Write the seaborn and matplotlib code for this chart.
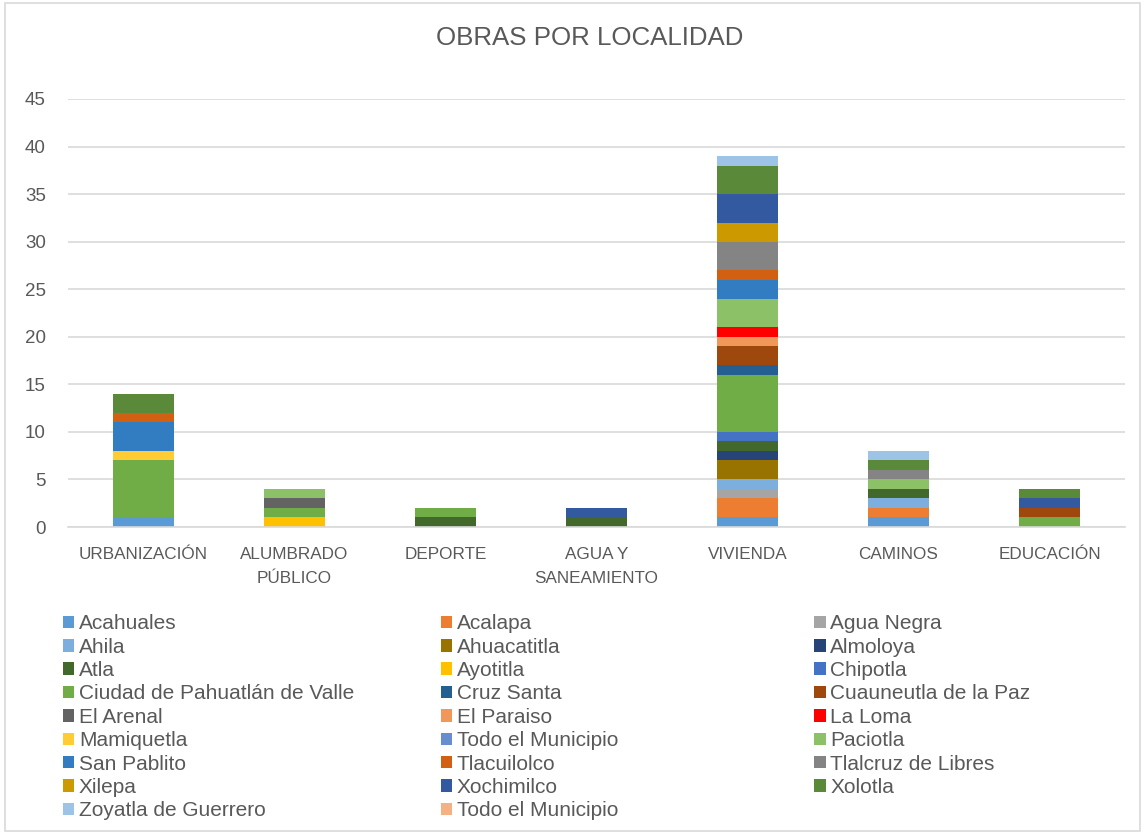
import numpy as np
import pandas as pd
import seaborn as sns
import matplotlib.pyplot as plt
from matplotlib.patches import Patch, Rectangle

# ==== data
categorias = ["URBANIZACIÓN", "ALUMBRADO\nPÚBLICO", "DEPORTE", "AGUA Y\nSANEAMIENTO",
              "VIVIENDA", "CAMINOS", "EDUCACIÓN"]

localidades = ["Acahuales", "Acalapa", "Agua Negra", "Ahila", "Ahuacatitla", "Almoloya",
               "Atla", "Ayotitla", "Chipotla", "Ciudad de Pahuatlán de Valle", "Cruz Santa",
               "Cuauneutla de la Paz", "El Arenal", "El Paraiso", "La Loma", "Mamiquetla",
               "Todo el Municipio", "Paciotla", "San Pablito", "Tlacuilolco",
               "Tlalcruz de Libres", "Xilepa", "Xochimilco", "Xolotla",
               "Zoyatla de Guerrero", "Todo el Municipio"]

colores = ["#5B9BD5", "#ED7D31", "#A5A5A5", "#7CAFDD", "#997300", "#264478",
           "#43682B", "#FFC000", "#4472C4", "#70AD47", "#255E91",
           "#9E480E", "#636363", "#F1975A", "#FF0000", "#FFCD33",
           "#698ED0", "#8CC168", "#327DC2", "#D26012",
           "#848484", "#CC9A00", "#335AA1", "#5A8A39",
           "#9DC3E6", "#F4B183"]

# values per localidad, one number per categoria
acahuales = [1, 0, 0, 0, 1, 1, 0]
acalapa = [0, 0, 0, 0, 2, 1, 0]
agua_negra = [0, 0, 0, 0, 1, 0, 0]
ahila = [0, 0, 0, 0, 1, 1, 0]
ahuacatitla = [0, 0, 0, 0, 2, 0, 0]
almoloya = [0, 0, 0, 0, 1, 0, 0]
atla = [0, 0, 1, 1, 1, 1, 0]
ayotitla = [0, 1, 0, 0, 0, 0, 0]
chipotla = [0, 0, 0, 0, 1, 0, 0]
ciudad = [6, 1, 1, 0, 6, 0, 1]
cruz_santa = [0, 0, 0, 0, 1, 0, 0]
cuauneutla = [0, 0, 0, 0, 2, 0, 1]
el_arenal = [0, 1, 0, 0, 0, 0, 0]
el_paraiso = [0, 0, 0, 0, 1, 0, 0]
la_loma = [0, 0, 0, 0, 1, 0, 0]
mamiquetla = [1, 0, 0, 0, 0, 0, 0]
todo_mun_1 = [0, 0, 0, 0, 0, 0, 0]
paciotla = [0, 1, 0, 0, 3, 1, 0]
san_pablito = [3, 0, 0, 0, 2, 0, 0]
tlacuilolco = [1, 0, 0, 0, 1, 0, 0]
tlalcruz = [0, 0, 0, 0, 3, 1, 0]
xilepa = [0, 0, 0, 0, 2, 0, 0]
xochimilco = [0, 0, 0, 1, 3, 0, 1]
xolotla = [2, 0, 0, 0, 3, 1, 1]
zoyatla = [0, 0, 0, 0, 1, 1, 0]
todo_mun_2 = [0, 0, 0, 0, 0, 0, 0]

valores = [acahuales, acalapa, agua_negra, ahila, ahuacatitla, almoloya, atla, ayotitla,
           chipotla, ciudad, cruz_santa, cuauneutla, el_arenal, el_paraiso, la_loma,
           mamiquetla, todo_mun_1, paciotla, san_pablito, tlacuilolco, tlalcruz, xilepa,
           xochimilco, xolotla, zoyatla, todo_mun_2]

gris = "#595959"
sns.set_style("white")
plt.rcParams['font.family'] = ['Liberation Sans', 'DejaVu Sans']

fig = plt.figure(figsize=(11.45, 8.34), dpi=100)
ax = fig.add_axes([0.0594, 0.3681, 0.9231, 0.5132])

# ==== stacked bars, one barplot per localidad
base = np.zeros(len(categorias))
for nombre, vals, col in zip(localidades, valores, colores):
    df = pd.DataFrame({"cat": categorias, "n": vals})
    sns.barplot(data=df, x="cat", y="n", color=col, saturation=1, width=0.4,
                bottom=base, linewidth=0, ax=ax, order=categorias)
    base = base + np.array(vals)

ax.set_ylim(0, 45)
ax.set_yticks(range(0, 50, 5))
ax.set_xlim(-0.5, len(categorias) - 0.5)
ax.yaxis.grid(True, color="#D9D9D9", linewidth=1.2)
ax.set_axisbelow(True)
sns.despine(ax=ax, left=True)
ax.spines["bottom"].set_color("#D9D9D9")
ax.spines["bottom"].set_linewidth(1.2)
ax.tick_params(axis="both", length=0, colors=gris)
ax.tick_params(axis="y", labelsize=13.5, pad=16)
ax.tick_params(axis="x", labelsize=12.3, pad=14.5)
for t in ax.get_xticklabels():
    t.set_linespacing(1.75)
ax.set_xlabel("")
ax.set_ylabel("")

fig.text(0.515, 0.955, "OBRAS POR LOCALIDAD", ha="center", va="center",
         fontsize=18.6, color=gris)

# ==== legend, filled row by row in three columns
handles = [Patch(facecolor=c, edgecolor="none") for c in colores]
col_x = [0.055, 0.385, 0.711]
for k in range(3):
    idx = list(range(k, len(localidades), 3))
    leg = fig.legend([handles[i] for i in idx], [localidades[i] for i in idx],
                     loc="upper left", bbox_to_anchor=(col_x[k], 0.2634),
                     frameon=False, fontsize=15, handlelength=0.55, handleheight=0.55,
                     handletextpad=0.22, labelspacing=0.21, borderpad=0, borderaxespad=0)
    for t in leg.get_texts():
        t.set_color(gris)

fig.patches.append(Rectangle((0.004, 0.004), 0.992, 0.992, transform=fig.transFigure,
                             fill=False, edgecolor="#D9D9D9", linewidth=1.2))

fig.savefig("out.png", dpi=100)
